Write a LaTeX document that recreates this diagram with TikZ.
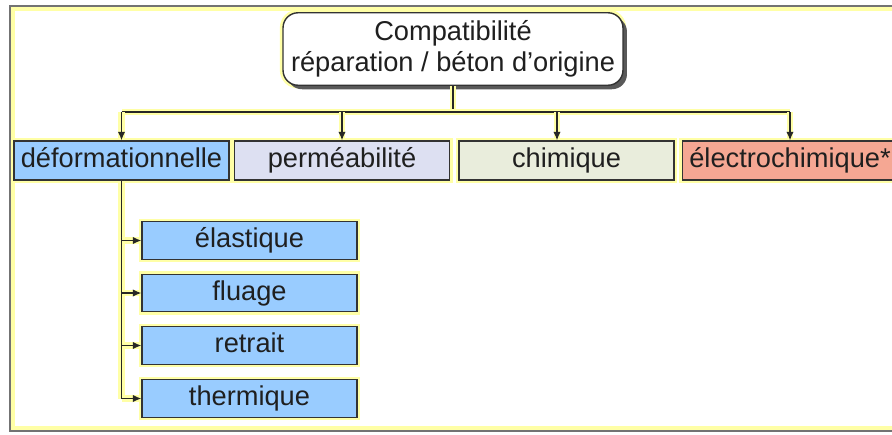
\documentclass[tikz,border=0pt]{standalone}
\usepackage{fontspec}
\setmainfont{Liberation Sans}
\usepackage{tikz}
\usetikzlibrary{arrows.meta, positioning, shadows}
\definecolor{haloyellow}{HTML}{FFFFA6}
\definecolor{boxblue}{HTML}{99CCFF}
\definecolor{boxlavender}{HTML}{DDE0F2}
\definecolor{boxbeige}{HTML}{E9EDDC}
\definecolor{boxsalmon}{HTML}{F5A793}

\begin{document}
\begin{tikzpicture}[x=0.02cm, y=-0.02cm, font=\fontsize{15.5}{17.6}\selectfont,
    halo/.style={preaction={draw=haloyellow, line width=3.6pt, arrows=-}},
    catbox/.style={draw=black!80, line width=0.8pt, halo, text=black!88, minimum width=4.3cm, minimum height=0.78cm, inner sep=0pt, text height=0.4cm, text depth=0.12cm},
    subbox/.style={catbox, fill=boxblue, minimum height=0.75cm},
    wire/.style={draw=black!85, line width=0.8pt, halo},
    wirearrow/.style={wire, -{Latex[length=0.17cm, width=0.15cm]}}]
    \useasboundingbox (0,0) rectangle (892,434);
    \clip (0,0) rectangle (892,434);
    \fill[white] (0,0) rectangle (892,434);
    \draw[haloyellow, line width=2.5pt] (12.5,8.5) rectangle (905,428.5);
    \draw[black!55, line width=1.2pt] (10,6) rectangle (905,431);

    \node[draw=black!80, line width=0.8pt, fill=white, rounded corners=0.3cm, halo,
          drop shadow={shadow xshift=0.08cm, shadow yshift=-0.08cm, fill=black!65, opacity=1},
          minimum width=6.8cm, minimum height=1.45cm, inner sep=0pt, align=center, text=black!88]
          (compat) at (453,49) {Compatibilité\\réparation / béton d’origine};

    \node[catbox, fill=boxblue]     (deform)  at (121.5,160.5) {déformationnelle};
    \node[catbox, fill=boxlavender] (perm)    at (342,160.5)   {perméabilité};
    \node[catbox, fill=boxbeige]    (chim)    at (566.5,160.5) {chimique};
    \node[catbox, fill=boxsalmon]   (electro) at (790,160.5)   {électrochimique*};

    \node[subbox] (elast)   at (249.5,240.5) {élastique};
    \node[subbox] (fluage)  at (249.5,293)   {fluage};
    \node[subbox] (retrait) at (249.5,345.5) {retrait};
    \node[subbox] (thermo)  at (249.5,398.5) {thermique};

    \coordinate (bus) at (453,112);
    \coordinate (chimdrop) at (557,112);
    \draw[wire] (compat.south) -- (bus);
    \draw[wire] (deform.north |- bus) -- (electro.north |- bus);
    \draw[wirearrow] (deform.north |- bus) -- (deform.north);
    \draw[wirearrow] (perm.north |- bus) -- (perm.north);
    \draw[wirearrow] (chimdrop) -- (chimdrop |- chim.north);
    \draw[wirearrow] (electro.north |- bus) -- (electro.north);

    \draw[wire] (deform.south) -- (deform.south |- thermo.west);
    \foreach \leaf in {elast, fluage, retrait, thermo}
        \draw[wirearrow] (deform.south |- \leaf.west) -- (\leaf.west);
\end{tikzpicture}
\end{document}
